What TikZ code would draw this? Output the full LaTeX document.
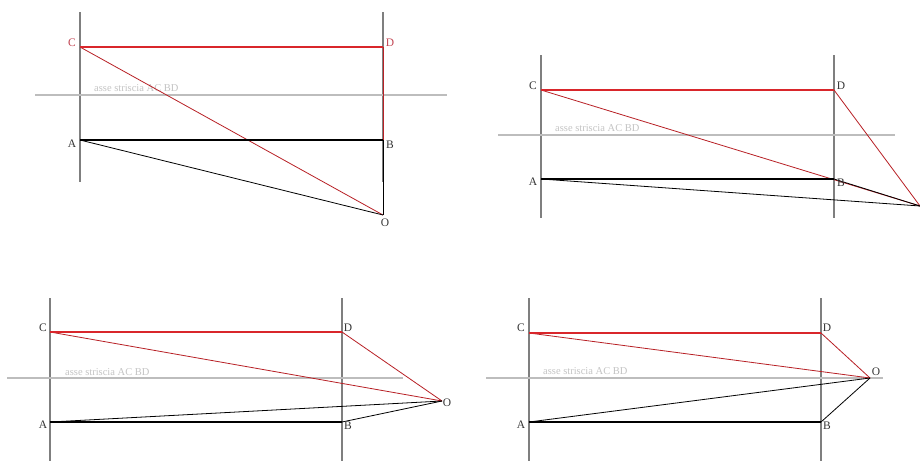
\documentclass[tikz,border=0pt]{standalone}
\usepackage{fontspec}
\setmainfont{Liberation Serif}
\definecolor{vgray}{HTML}{7F7F7F}
\definecolor{agray}{HTML}{BDBDBD}
\definecolor{tgray}{HTML}{C4C4C4}
\definecolor{sred}{HTML}{D9262B}
\definecolor{lred}{HTML}{C24452}
\definecolor{lblk}{HTML}{333333}
\tikzset{
  vline/.style={draw=vgray,line width=2pt},
  axisline/.style={draw=agray,line width=2pt},
  redthick/.style={draw=sred,line width=2.8pt},
  blkthick/.style={draw=black,line width=2.8pt},
  redthin/.style={draw=sred!85!black,line width=0.8pt},
  blkthin/.style={draw=black,line width=0.8pt},
  lbl/.style={font=\fontsize{11.5}{11.5}\selectfont,text=lblk,inner sep=0pt},
  lblr/.style={lbl,text=lred},
  axtext/.style={font=\fontsize{10.5}{10.5}\selectfont,text=tgray,inner sep=0pt,anchor=west},
}
\begin{document}
\begin{tikzpicture}[x=1pt,y=-1pt]
\useasboundingbox[fill=white] (0,0) rectangle (920,461);
% ---------- panel 1 ----------
\coordinate (aC) at (80,47);  \coordinate (aD) at (383,47);
\coordinate (aA) at (80,140); \coordinate (aB) at (383,140);
\coordinate (aO) at (383,215);
\coordinate (aLt) at (80,12);  \coordinate (aLb) at (80,182);
\coordinate (aRt) at (383,12); \coordinate (aRb) at (383,182);
\coordinate (aX1) at (35,95);  \coordinate (aX2) at (447,95);
\draw[vline] (aLt) -- (aLb);
\draw[vline] (aRt) -- (aRb);
\draw[axisline] (aX1) -- (aX2);
\node[axtext] (aT) at (94,88) {asse striscia AC BD};
\draw[redthin] (aC) -- (aO);
\draw[redthin] (aD) -- (aO);
\draw[blkthin] (aA) -- (aO);
\draw[blkthin] (aB) -- (aO);
\draw[redthick] (aC) -- (aD);
\draw[blkthick] (aA) -- (aB);
\node[lblr] (aCl) at (72,43) {C};
\node[lblr] (aDl) at (390,43) {D};
\node[lbl] (aAl) at (72,144) {A};
\node[lbl] (aBl) at (390,145) {B};
\node[lbl] (aOl) at (385,223) {O};
% ---------- panel 2 ----------
\coordinate (bC) at (541,90);  \coordinate (bD) at (834,90);
\coordinate (bA) at (541,179); \coordinate (bB) at (834,179);
\coordinate (bO) at (920,206);
\coordinate (bLt) at (541,55);  \coordinate (bLb) at (541,218);
\coordinate (bRt) at (834,55);  \coordinate (bRb) at (834,218);
\coordinate (bX1) at (498,135); \coordinate (bX2) at (895,135);
\draw[vline] (bLt) -- (bLb);
\draw[vline] (bRt) -- (bRb);
\draw[axisline] (bX1) -- (bX2);
\node[axtext] (bT) at (555,128) {asse striscia AC BD};
\draw[redthin] (bC) -- (bO);
\draw[redthin] (bD) -- (bO);
\draw[blkthin] (bA) -- (bO);
\draw[blkthin] (bB) -- (bO);
\draw[redthick] (bC) -- (bD);
\draw[blkthick] (bA) -- (bB);
\node[lbl] (bCl) at (533,86) {C};
\node[lbl] (bDl) at (841,86) {D};
\node[lbl] (bAl) at (533,182) {A};
\node[lbl] (bBl) at (841,183) {B};
% ---------- panel 3 ----------
\coordinate (cC) at (50,332);  \coordinate (cD) at (342,332);
\coordinate (cA) at (50,422);  \coordinate (cB) at (342,422);
\coordinate (cO) at (442,401);
\coordinate (cLt) at (50,298);  \coordinate (cLb) at (50,461);
\coordinate (cRt) at (342,298); \coordinate (cRb) at (342,461);
\coordinate (cX1) at (7,378);   \coordinate (cX2) at (403,378);
\draw[vline] (cLt) -- (cLb);
\draw[vline] (cRt) -- (cRb);
\draw[axisline] (cX1) -- (cX2);
\node[axtext] (cT) at (65,372) {asse striscia AC BD};
\draw[redthin] (cC) -- (cO);
\draw[redthin] (cD) -- (cO);
\draw[blkthin] (cA) -- (cO);
\draw[blkthin] (cB) -- (cO);
\draw[redthick] (cC) -- (cD);
\draw[blkthick] (cA) -- (cB);
\node[lbl] (cCl) at (43,328) {C};
\node[lbl] (cDl) at (348,328) {D};
\node[lbl] (cAl) at (43,425) {A};
\node[lbl] (cBl) at (348,426) {B};
\node[lbl] (cOl) at (447,403) {O};
% ---------- panel 4 ----------
\coordinate (dC) at (529,333);  \coordinate (dD) at (821,333);
\coordinate (dA) at (529,422);  \coordinate (dB) at (821,422);
\coordinate (dO) at (870,378);
\coordinate (dLt) at (529,298);  \coordinate (dLb) at (529,461);
\coordinate (dRt) at (821,298);  \coordinate (dRb) at (821,461);
\coordinate (dX1) at (486,378);  \coordinate (dX2) at (883,378);
\draw[vline] (dLt) -- (dLb);
\draw[vline] (dRt) -- (dRb);
\draw[axisline] (dX1) -- (dX2);
\node[axtext] (dT) at (543,371) {asse striscia AC BD};
\draw[redthin] (dC) -- (dO);
\draw[redthin] (dD) -- (dO);
\draw[blkthin] (dA) -- (dO);
\draw[blkthin] (dB) -- (dO);
\draw[redthick] (dC) -- (dD);
\draw[blkthick] (dA) -- (dB);
\node[lbl] (dCl) at (521,328) {C};
\node[lbl] (dDl) at (827,328) {D};
\node[lbl] (dAl) at (521,425) {A};
\node[lbl] (dBl) at (827,426) {B};
\node[lbl] (dOl) at (876,372) {O};
\end{tikzpicture}
\end{document}
